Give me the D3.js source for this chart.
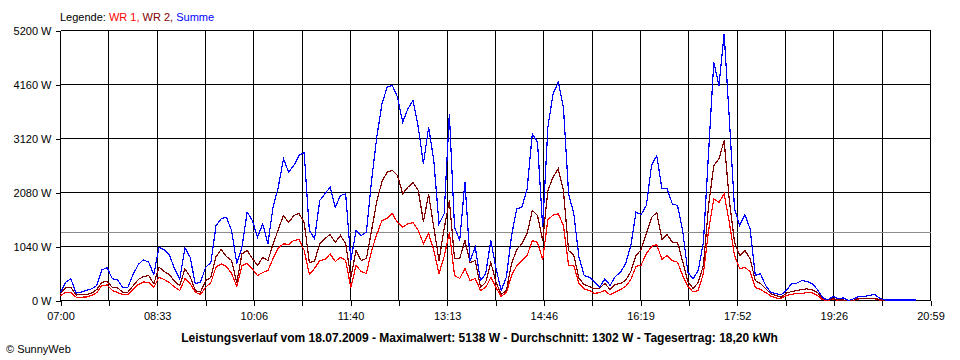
<!DOCTYPE html>
<html><head><meta charset="utf-8">
<script src="https://cdn.jsdelivr.net/npm/d3@7"></script>
<style>
html,body{margin:0;padding:0;background:#fff;}
svg{display:block;}
text{font-family:"Liberation Sans",Arial,sans-serif;}
</style></head><body>
<svg id="c" width="960" height="360"></svg>
<script>
// ---- data ----
const startTime = "07:00";
const endTime = "20:59";
const stepMinutes = 5; // one reading every 5 minutes from 07:00

const wr1 = [96,154,160,64,64,67,96,154,289,299, 193,154,116,116,206,308,356,347,250,449,
 404,347,256,193,418,327,160,116,256,347, 645,707,655,520,270,674,713,607,481,539,
 578,809,1011,1092,1079,1156,1175,963,501,616, 770,790,896,751,834,770,250,674,559,520,
 963,1271,1541,1579,1676,1502,1412,1477,1502,1348, 1098,1290,963,520,847,1310,481,424,616,385,
 424,193,250,443,250,77,154,481,674,770, 867,1156,1117,790,1560,1643,1670,1444,674,674,
 327,221,193,135,154,193,106,164,212,270, 404,655,684,905,1040,1079,790,867,770,738,
 481,270,164,193,520,1348,1959,1887,2057,1502, 867,611,636,559,250,212,154,87,48,39,
 96,116,141,135,154,148,96,13,5,19, 5,5,0,5,33,33,33,33,10,3,
 3,3,3,3,3,3];

const wr2 = [129,250,256,106,116,116,141,212,352,366, 250,245,160,160,283,404,462,481,322,641,
 559,501,366,289,611,462,193,160,385,443, 847,982,847,770,347,899,963,809,674,828,
 770,1079,1367,1637,1502,1637,1676,1502,732,751, 1098,1194,1271,1117,1252,1098,443,963,770,809,
 1348,1907,2292,2471,2504,2407,2055,2182,2273,2118, 1521,2041,1412,770,1387,1926,809,809,1156,732,
 770,256,347,732,347,116,193,713,982,1092, 1290,1733,1637,1156,2118,2375,2536,2118,963,867,
 424,308,270,225,241,327,212,308,327,385, 559,867,982,1290,1598,1695,1175,1271,1123,1123,
 751,366,231,347,674,1830,2600,2729,3081,1926, 1123,867,963,809,385,327,231,129,96,64,
 141,173,193,212,225,202,154,39,8,39, 8,8,0,8,44,44,44,44,15,5,
 5,5,5,5,5,5];

const summe = [154,352,418,141,164,193,225,289,591,630, 418,399,245,256,501,693,784,738,501,1027,
 976,880,611,418,1015,834,322,352,641,732, 1444,1573,1604,1348,707,1027,1701,1541,1219,1477,
 1092,1797,2182,2729,2471,2600,2793,2850,1348,1188, 1926,2055,2182,1797,2022,2055,770,1348,1252,1315,
 2311,3145,3788,4108,4141,3915,3434,3692,3852,3338, 2633,3338,2696,1477,1670,3596,1412,1156,2278,770,
 1027,385,514,1156,616,193,449,1252,1766,1797, 2151,3210,3049,1412,3338,3981,4204,3723,2055,1670,
 834,481,449,352,256,418,289,462,545,707, 1059,1701,1656,1830,2600,2793,2151,2151,1862,1830,
 1348,545,418,578,1123,2856,4589,4141,5138,3499, 1766,1444,1650,1381,481,514,289,160,129,110,
 193,322,333,385,366,322,212,52,13,77, 33,52,0,33,77,77,96,116,44,10,
 10,10,10,10,10,10];

const yTicks = [0, 1040, 2080, 3120, 4160, 5200];
const xTickLabels = ["07:00","08:33","10:06","11:40","13:13","14:46","16:19","17:52","19:26","20:59"];
const average = 1302;
const legendParts = [["Legende: ", "#000000"], ["WR 1, ", "#ff0000"], ["WR 2, ", "#800000"], ["Summe", "#0000ff"]];
const titleText = "Leistungsverlauf vom 18.07.2009 - Maximalwert: 5138 W - Durchschnitt: 1302 W - Tagesertrag: 18,20 kWh";
const footerText = "\u00A9 SunnyWeb";

// ---- drawing ----
const toMin = s => { const [h, m] = s.split(":").map(Number); return h * 60 + m; };
const t0 = toMin(startTime), t1 = toMin(endTime);
const span = t1 - t0;

const svg = d3.select("#c");
const x = d3.scaleLinear().domain([0, span]).range([60.5, 930.5]);
const y = d3.scaleLinear().domain([0, 5200]).range([300.5, 30.5]);

const nInt = (xTickLabels.length - 1) * 2;
const xTickVals = d3.range(nInt + 1).map(i => i * span / nInt);

const grid = svg.append("g").attr("shape-rendering", "crispEdges").attr("stroke", "#000");
grid.selectAll("line.v").data(xTickVals).join("line")
  .attr("x1", d => x(d)).attr("x2", d => x(d))
  .attr("y1", y(5200)).attr("y2", y(0));
grid.selectAll("line.h").data(yTicks).join("line")
  .attr("x1", x(0)).attr("x2", x(span))
  .attr("y1", d => y(d)).attr("y2", d => y(d));

// average line
svg.append("line").attr("shape-rendering", "crispEdges")
  .attr("x1", x(0)).attr("x2", x(span)).attr("y1", y(average)).attr("y2", y(average))
  .attr("stroke", "#8c8c8c");

// axes
const yAxis = svg.append("g").attr("transform", `translate(${x(0)},0)`)
  .call(d3.axisLeft(y).tickValues(yTicks).tickSize(5).tickPadding(4).tickFormat(d => d + " W"));
const xAxis = svg.append("g").attr("transform", `translate(0,${y(0)})`)
  .call(d3.axisBottom(x).tickValues(xTickVals).tickSize(5).tickPadding(7)
    .tickFormat((d, i) => i % 2 === 0 ? xTickLabels[i / 2] : ""));
[yAxis, xAxis].forEach(a => {
  a.select(".domain").remove();
  a.attr("font-family", "Liberation Sans, Arial, sans-serif").attr("font-size", 11);
  a.selectAll("line").attr("stroke", "#000").attr("shape-rendering", "crispEdges");
  a.selectAll("text").attr("fill", "#000");
});

// series
const line = d3.line().x((d, i) => x(i * stepMinutes)).y(d => y(d));
[[wr1, "#ff0000"], [wr2, "#800000"], [summe, "#0000ff"]].forEach(([data, col]) => {
  svg.append("path").datum(data).attr("d", line)
    .attr("fill", "none").attr("stroke", col).attr("stroke-width", 1.2)
    .attr("shape-rendering", "crispEdges")
    .attr("stroke-linejoin", "miter");
});

// legend
const lg = svg.append("text").attr("x", 60).attr("y", 21).attr("font-size", 11);
legendParts.forEach(([t, c]) => lg.append("tspan").attr("fill", c).text(t));

// title
svg.append("text").attr("x", 479.5).attr("y", 342).attr("text-anchor", "middle")
  .attr("font-size", 12).attr("font-weight", "bold").attr("fill", "#000").text(titleText);

// footer
svg.append("text").attr("x", 6).attr("y", 353).attr("font-size", 11).attr("fill", "#000").text(footerText);
</script>
</body></html>
